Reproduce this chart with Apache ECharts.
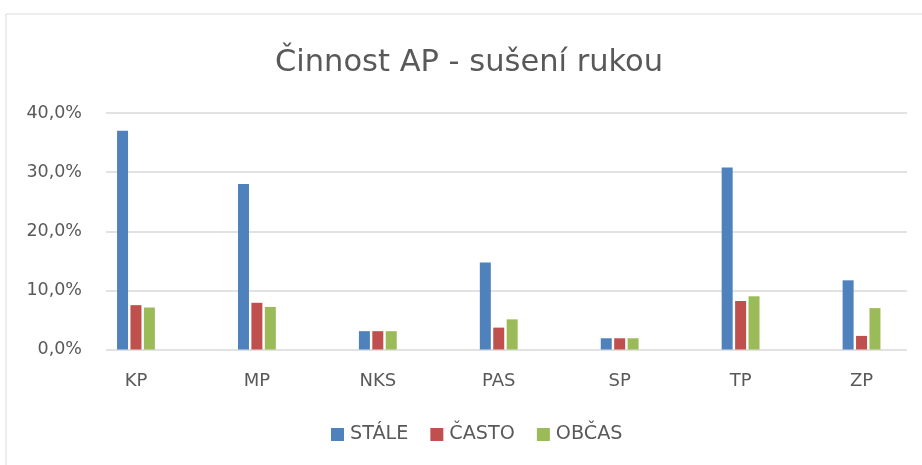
<!DOCTYPE html>
<html>
<head>
<meta charset="utf-8">
<script src="https://cdn.jsdelivr.net/npm/echarts@6/dist/echarts.min.js"></script>
<style>
  html, body { margin: 0; padding: 0; background: #fff; }
  #chart { width: 922px; height: 465px; }
</style>
</head>
<body>
<div id="chart"></div>
<script>
// kategorie a hodnoty (%)
const categories = ['KP', 'MP', 'NKS', 'PAS', 'SP', 'TP', 'ZP'];
const stale = [37.0, 28.0, 3.1, 14.7, 1.9, 30.8, 11.7];
const casto = [7.5, 7.9, 3.1, 3.7, 1.9, 8.2, 2.3];
const obcas = [7.1, 7.2, 3.1, 5.1, 1.9, 9.0, 7.0];
const seriesNames = ['STÁLE', 'ČASTO', 'OBČAS'];
const colors = ['#4F81BD', '#C0504D', '#9BBB59'];

const font = 'DejaVu Sans';
const textColor = '#595959';

const chart = echarts.init(document.getElementById('chart'));

const fmt = v => v.toFixed(1).replace('.', ',') + '%';

const bar = (name, data, i) => ({
  name: name,
  type: 'bar',
  xAxisIndex: 1,
  yAxisIndex: 1,
  data: data,
  barWidth: 11,
  barGap: '22%',
  itemStyle: { color: colors[i] }
});

chart.setOption({
  animation: false,
  color: colors,
  title: {
    text: 'Činnost AP - sušení rukou',
    left: 270,
    top: 43,
    textStyle: { fontFamily: font, fontSize: 30.5, fontWeight: 'normal', color: textColor }
  },
  legend: {
    bottom: 16,
    left: 326,
    itemWidth: 13,
    itemHeight: 13,
    itemGap: 22,
    icon: 'rect',
    textStyle: { fontFamily: font, fontSize: 19.2, color: textColor, padding: [0, 0, 0, 1] },
    data: seriesNames
  },
  graphic: [{
    type: 'rect',
    shape: { x: 6, y: 14, width: 940, height: 470 },
    style: { fill: null, stroke: '#d9d9d9', lineWidth: 1 },
    silent: true
  }],
  grid: [
    { left: 106, right: 15, top: 113, bottom: 115.5 },
    { left: 75.5, width: 861.6, top: 113, bottom: 115.5 }
  ],
  xAxis: [
    { type: 'value', gridIndex: 0, show: false, min: 0, max: 1 },
    {
      type: 'category',
      gridIndex: 1,
      data: categories,
      axisLine: { show: false },
      axisTick: { show: false },
      axisLabel: { fontFamily: font, fontSize: 18, color: textColor, margin: 23 }
    }
  ],
  yAxis: [
    {
      type: 'value',
      gridIndex: 0,
      min: 0,
      max: 40,
      interval: 10,
      axisLine: { show: false },
      axisTick: { show: false },
      axisLabel: { fontFamily: font, fontSize: 17.5, color: textColor, margin: 24, formatter: fmt },
      splitLine: { lineStyle: { color: '#d9d9d9', width: 1.5 } }
    },
    { type: 'value', gridIndex: 1, min: 0, max: 40, interval: 10, show: false }
  ],
  series: [
    bar(seriesNames[0], stale, 0),
    bar(seriesNames[1], casto, 1),
    bar(seriesNames[2], obcas, 2)
  ]
});

window.addEventListener('resize', () => chart.resize());
</script>
</body>
</html>
